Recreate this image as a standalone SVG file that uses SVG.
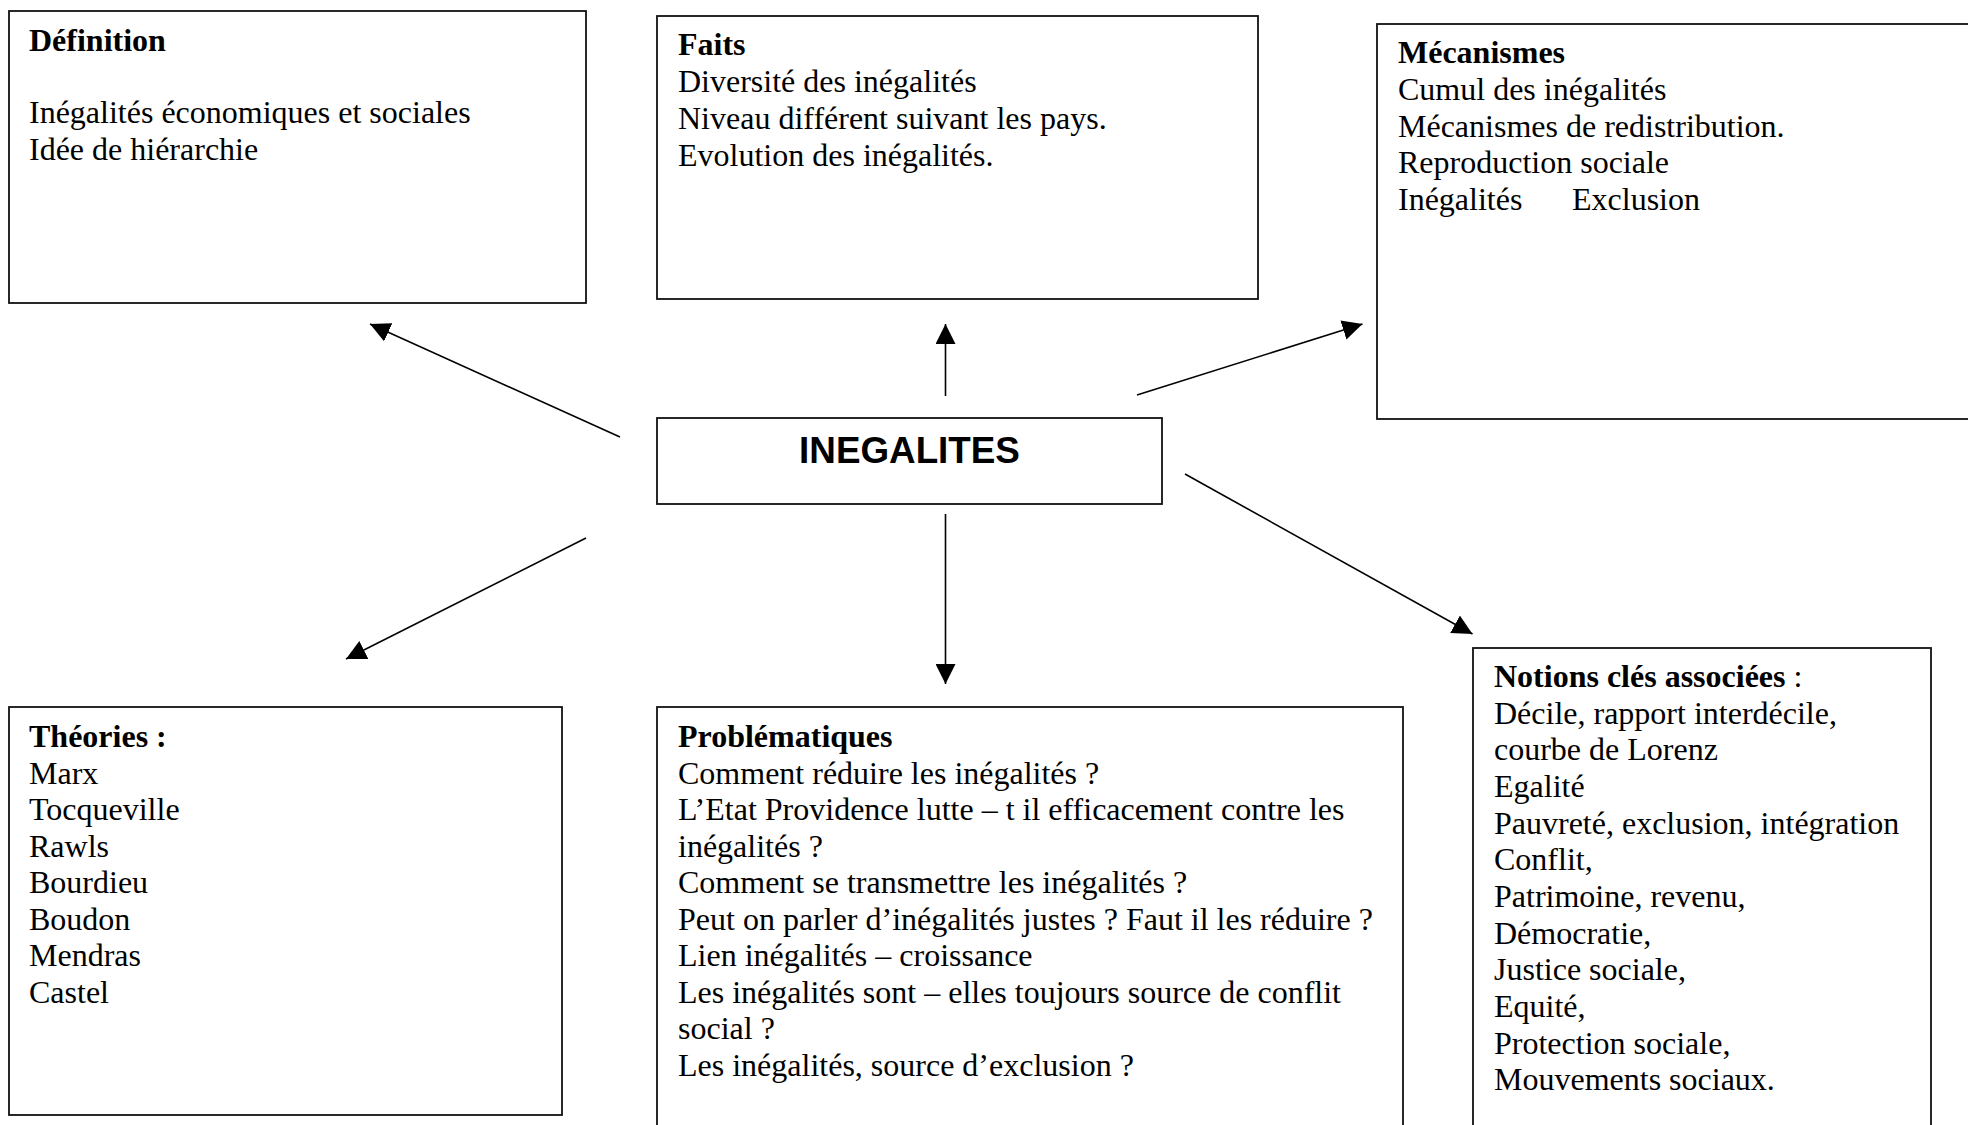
<svg xmlns="http://www.w3.org/2000/svg" width="1968" height="1125" viewBox="0 0 1968 1125">
<style>
.box{fill:#fff;stroke:#111;stroke-width:1.8}
.t{font-family:"Liberation Serif","Times New Roman",serif;font-size:32px;fill:#000}
.b{font-weight:bold}
.c{font-family:"Liberation Sans",Arial,sans-serif;font-size:36.8px;font-weight:bold;fill:#000}
.ln{stroke:#000;stroke-width:1.6;fill:none}
</style>
<defs>
<marker id="ah" markerUnits="userSpaceOnUse" markerWidth="20" markerHeight="20" refX="20" refY="10" orient="auto" viewBox="0 0 20 20">
<path d="M0,0 L20,10 L0,20 z" fill="#000"/>
</marker>
</defs>
<rect width="1968" height="1125" fill="#fff"/>
<g id="connectors">
<line class="ln" x1="620" y1="437" x2="370" y2="324" marker-end="url(#ah)"/>
<line class="ln" x1="945.5" y1="396" x2="945.5" y2="324" marker-end="url(#ah)"/>
<line class="ln" x1="1137" y1="395" x2="1362.5" y2="324" marker-end="url(#ah)"/>
<line class="ln" x1="586" y1="538" x2="346" y2="659" marker-end="url(#ah)"/>
<line class="ln" x1="945.5" y1="514" x2="945.5" y2="684" marker-end="url(#ah)"/>
<line class="ln" x1="1185" y1="474" x2="1472.5" y2="634" marker-end="url(#ah)"/>
</g>
<g id="definition">
<rect class="box" x="9" y="11" width="577" height="292"/>
<text class="t b" x="29" y="51">Définition</text>
<text class="t" x="29" y="123">Inégalités économiques et sociales</text>
<text class="t" x="29" y="160">Idée de hiérarchie</text>
</g>
<g id="faits">
<rect class="box" x="657" y="16" width="601" height="283"/>
<text class="t b" x="678" y="55">Faits</text>
<text class="t" x="678" y="92">Diversité des inégalités</text>
<text class="t" x="678" y="128.5">Niveau différent suivant les pays.</text>
<text class="t" x="678" y="165.5">Evolution des inégalités.</text>
</g>
<g id="mecanismes">
<rect class="box" x="1377" y="24" width="620" height="395"/>
<text class="t b" x="1398" y="63">Mécanismes</text>
<text class="t" x="1398" y="100">Cumul des inégalités</text>
<text class="t" x="1398" y="137">Mécanismes de redistribution.</text>
<text class="t" x="1398" y="173">Reproduction sociale</text>
<text class="t" y="210"><tspan x="1398">Inégalités</tspan><tspan x="1572">Exclusion</tspan></text>
</g>
<g id="inegalites">
<rect class="box" x="657" y="418" width="505" height="86"/>
<text class="c" x="909.5" y="463" text-anchor="middle">INEGALITES</text>
</g>
<g id="theories">
<rect class="box" x="9" y="707" width="553" height="408"/>
<text class="t b" x="29" y="747">Théories :</text>
<text class="t" x="29" y="783.5">Marx</text>
<text class="t" x="29" y="820">Tocqueville</text>
<text class="t" x="29" y="856.5">Rawls</text>
<text class="t" x="29" y="893">Bourdieu</text>
<text class="t" x="29" y="929.5">Boudon</text>
<text class="t" x="29" y="966">Mendras</text>
<text class="t" x="29" y="1002.5">Castel</text>
</g>
<g id="problematiques">
<rect class="box" x="657" y="707" width="746" height="440"/>
<text class="t b" x="678" y="747">Problématiques</text>
<text class="t" x="678" y="783.5">Comment réduire les inégalités ?</text>
<text class="t" x="678" y="820">L’Etat Providence lutte – t il efficacement contre les</text>
<text class="t" x="678" y="856.5">inégalités ?</text>
<text class="t" x="678" y="893">Comment se transmettre les inégalités ?</text>
<text class="t" x="678" y="929.5">Peut on parler d’inégalités justes ? Faut il les réduire ?</text>
<text class="t" x="678" y="966">Lien inégalités – croissance</text>
<text class="t" x="678" y="1002.5">Les inégalités sont – elles toujours source de conflit</text>
<text class="t" x="678" y="1039">social ?</text>
<text class="t" x="678" y="1075.5">Les inégalités, source d’exclusion ?</text>
</g>
<g id="notions">
<rect class="box" x="1473" y="648" width="458" height="500"/>
<text class="t" x="1494" y="687"><tspan class="b">Notions clés associées</tspan> :</text>
<text class="t" x="1494" y="723.5">Décile, rapport interdécile,</text>
<text class="t" x="1494" y="760">courbe de Lorenz</text>
<text class="t" x="1494" y="797">Egalité</text>
<text class="t" x="1494" y="833.5">Pauvreté, exclusion, intégration</text>
<text class="t" x="1494" y="870">Conflit,</text>
<text class="t" x="1494" y="907">Patrimoine, revenu,</text>
<text class="t" x="1494" y="943.5">Démocratie,</text>
<text class="t" x="1494" y="980">Justice sociale,</text>
<text class="t" x="1494" y="1017">Equité,</text>
<text class="t" x="1494" y="1053.5">Protection sociale,</text>
<text class="t" x="1494" y="1090">Mouvements sociaux.</text>
</g>
</svg>
